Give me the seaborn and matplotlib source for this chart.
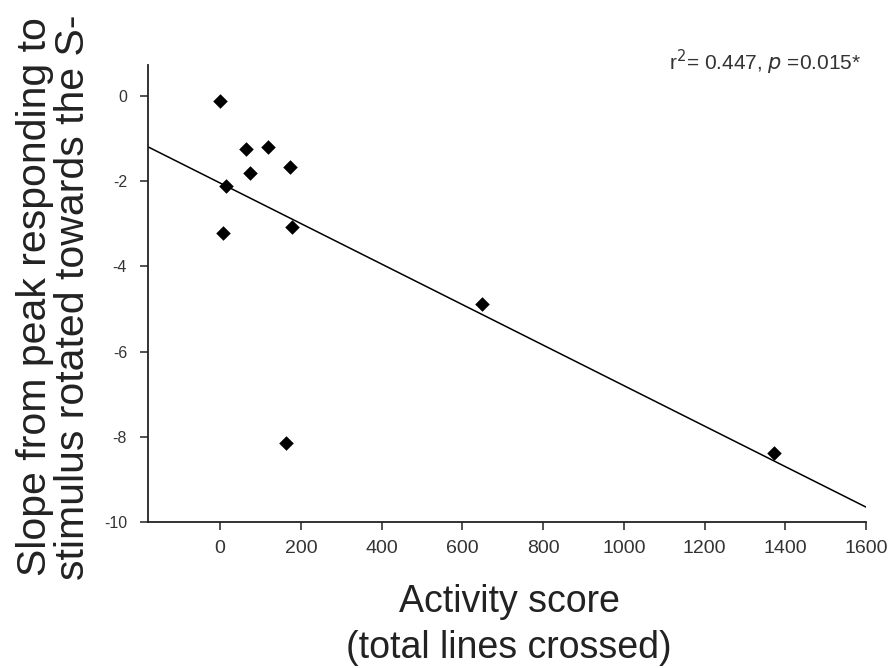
import matplotlib
matplotlib.use("Agg")
import matplotlib.pyplot as plt
import seaborn as sns
import pandas as pd

# Data
activity = [0, 63, 119, 74, 173, 14, 6, 177, 163, 648, 1372]
slope = [-0.12, -1.23, -1.19, -1.81, -1.67, -2.10, -3.21, -3.08, -8.14, -4.89, -8.37]
x_ticks = [0, 200, 400, 600, 800, 1000, 1200, 1400, 1600]
y_ticks = [0, -2, -4, -6, -8, -10]
y_tick_labels = ["0", "-2", "-4", "-6", "-8", "-10"]
annotation = r"r$^2$= 0.447, $p$ =0.015*"
x_label = "Activity score\n(total lines crossed)"
y_label = "Slope from peak responding to\nstimulus rotated towards the S-"

df = pd.DataFrame({"activity": activity, "slope": slope})

sns.set_style("ticks")
plt.rcParams["font.family"] = ["Liberation Sans", "DejaVu Sans"]

fig = plt.figure(figsize=(8.91, 6.68), dpi=100)
ax = fig.add_axes([0.166, 0.2186, 0.806, 0.684])

ax.set_xlim(-179, 1600)
ax.set_ylim(-10, 0.73)

sns.regplot(data=df, x="activity", y="slope", ax=ax, scatter=False, ci=None,
            truncate=False, line_kws={"color": "black", "lw": 1.1})
sns.scatterplot(data=df, x="activity", y="slope", ax=ax, marker="D", s=55,
                color="black", edgecolor="black", linewidth=0, zorder=5)

ax.set_xlim(-179, 1600)
ax.set_ylim(-10, 0.73)

ax.set_xticks(x_ticks)
ax.set_xticklabels([str(t) for t in x_ticks])
ax.set_yticks(y_ticks)
ax.set_yticklabels(y_tick_labels)

for s in ["top", "right"]:
    ax.spines[s].set_visible(False)
for s in ["left", "bottom"]:
    ax.spines[s].set_color("#222222")
    ax.spines[s].set_linewidth(1.3)

ax.tick_params(axis="x", length=6, width=1.1, color="#222222", labelsize=14,
               labelcolor="#333333", pad=7)
ax.tick_params(axis="y", length=6, width=1.1, color="#222222", labelsize=11.5,
               labelcolor="#333333", pad=9)

ax.set_xlabel("")
ax.set_ylabel("")

fig.text(509 / 891, 1 - 625 / 668, x_label, ha="center", va="center",
         fontsize=27, color="#222222", linespacing=1.38,
         multialignment="center")
fig.text(54 / 891, 1 - 297 / 668, y_label, ha="center", va="center",
         rotation=90, fontsize=29.5, color="#222222", linespacing=1.0,
         multialignment="center")

fig.text(0.967, 1 - 70 / 668, annotation, ha="right", va="baseline",
         fontsize=15, color="#333333")

fig.savefig("out.png", dpi=100)
